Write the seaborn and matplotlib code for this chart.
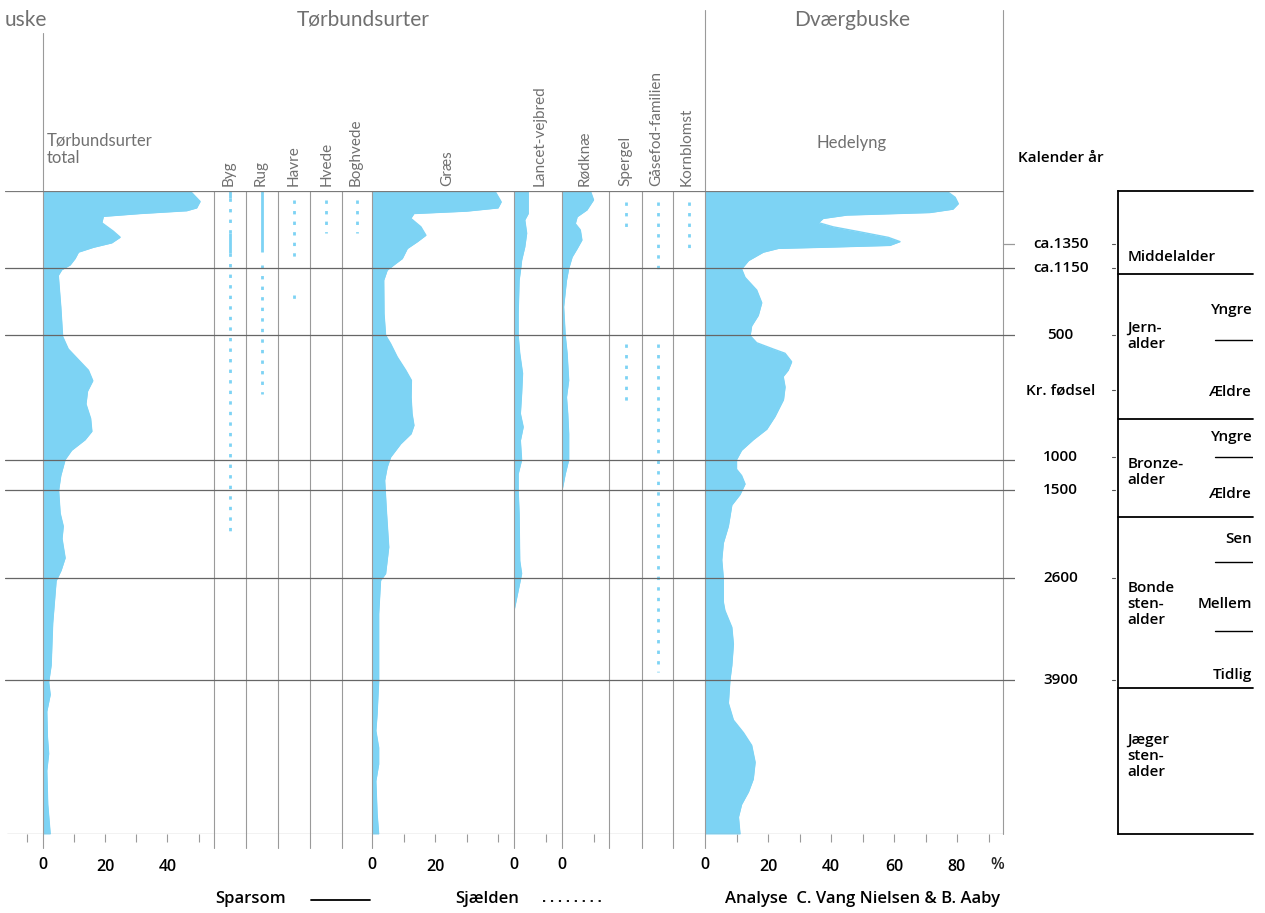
import matplotlib
matplotlib.use("Agg")
import matplotlib.pyplot as plt
from matplotlib.lines import Line2D
import seaborn as sns

# ---------------------------------------------------------------------------
# Pollen data: depth (0 = top of section, 160 = base) and percentage values
# ---------------------------------------------------------------------------
tor_depth = [0, 2.6, 4.2, 4.9, 5.6, 6.3, 7.9, 10.0, 11.5, 12.9, 14.0, 15.2, 16.8,
             18.4, 19.6, 21.0, 28.8, 36.2, 39.3, 42.0, 44.6, 47.2, 49.8, 53.0,
             56.6, 59.8, 61.9, 64.5, 66.8, 70.8, 74.5, 80.2, 83.4, 86.5, 91.3,
             94.4, 97.0, 107.5, 118.0, 122.2, 125.3, 129.5, 135.8, 140.0, 144.2,
             152.6, 160]
tor_pct = [47.3, 50.5, 49.4, 46.2, 31.2, 19.4, 18.9, 22.6, 24.8, 22.1, 16.2, 11.4,
           10.3, 8.7, 6.0, 4.9, 5.7, 6.3, 8.1, 11.4, 14.6, 16.0, 14.3, 13.8, 15.3,
           15.7, 13.5, 9.2, 7.1, 5.7, 5.0, 5.5, 6.5, 6.1, 7.1, 5.8, 4.2, 3.1, 2.6,
           1.8, 2.3, 1.2, 1.4, 1.8, 1.2, 1.5, 2.3]

graes_depth = [0, 2.7, 4.2, 5.0, 5.6, 6.8, 8.9, 11.0, 12.6, 14.3, 16.8, 18.4, 19.7,
               22.2, 30.5, 35.9, 38.0, 41.3, 44.6, 47.1, 51.3, 55.4, 58.3, 60.4,
               62.9, 66.2, 68.7, 72.0, 80.2, 88.6, 95.2, 96.9, 105.2, 121.9, 130.1,
               134.3, 138.5, 142.6, 146.8, 155.0, 160]
graes_pct = [39, 41, 40, 30, 13.3, 12.3, 15.5, 17.1, 14.4, 11.2, 9.6, 6.9, 4.8, 3.7,
             3.8, 4.3, 5.9, 8.0, 10.7, 12.5, 12.4, 12.7, 13.3, 12.4, 9.1, 5.9, 4.8,
             4.0, 4.6, 5.3, 4.3, 2.7, 2.1, 2.1, 1.6, 1.2, 2.1, 2.1, 1.2, 1.6, 2.1]

lancet_depth = [0, 5.6, 7.2, 10.5, 13.9, 17.2, 19.3, 22.2, 30.5, 35.9, 40.4, 45.4,
                50.4, 55.4, 58.7, 62.1, 66.9, 70.4, 74.5, 80.3, 92.0, 95.2, 99.4, 104.4]
lancet_pct = [4.5, 4.5, 3.4, 4.0, 3.4, 2.4, 2.1, 1.6, 1.3, 1.3, 1.8, 2.7, 2.4, 2.0,
              2.9, 2.0, 2.4, 1.3, 1.3, 1.6, 1.8, 2.4, 1.3, 0]

roedknae_depth = [0, 2.2, 4.7, 6.4, 8.1, 9.7, 12.2, 14.3, 16.4, 19.3, 22.2, 28.8,
                  35.9, 40.4, 47.1, 51.3, 55.4, 60.4, 66.9, 70.4, 74.5]
roedknae_pct = [9.0, 10.0, 7.9, 4.8, 4.2, 5.8, 6.3, 4.8, 3.2, 2.1, 1.4, 0.5, 1.0,
                1.6, 2.1, 1.4, 1.8, 2.1, 2.1, 1.0, 0]

hede_depth = [0, 1.57, 3.15, 4.51, 5.35, 5.98, 6.82, 7.87, 8.92, 10.17, 11.54,
              12.59, 13.53, 13.95, 14.27, 15.21, 17.31, 19.4, 21.5, 24.65, 27.8,
              30.94, 33.56, 35.98, 37.76, 39.33, 40.38, 42.48, 44.58, 46.15, 48.77,
              51.92, 56.12, 59.26, 61.89, 64.51, 66.82, 69.23, 70.8, 72.9, 75.52,
              78.14, 83.39, 87.58, 91.78, 96.29, 102.27, 104.37, 108.56, 112.76,
              118.0, 121.67, 127.44, 131.64, 134.78, 137.93, 142.13, 146.33,
              149.48, 152.63, 155.77, 160]
hede_pct = [76.7, 79.4, 80.4, 78.7, 71.4, 45.0, 37.5, 36.0, 40.7, 49.2, 58.2, 61.9,
            58.7, 39.7, 23.3, 18.5, 13.8, 11.6, 12.7, 16.4, 18.0, 16.9, 14.8, 14.3,
            16.4, 21.7, 25.4, 27.5, 26.4, 24.8, 25.4, 24.9, 22.2, 19.6, 15.3, 11.6,
            10.0, 10.0, 11.6, 12.7, 11.1, 8.5, 7.4, 5.8, 5.3, 5.8, 5.8, 6.3, 8.5,
            9.0, 8.5, 7.9, 7.4, 9.0, 12.2, 14.8, 15.9, 15.3, 13.8, 11.6, 10.6, 11.1]

# Presence records (depth intervals): sparsom = solid, sjælden = dotted
byg_sparsom = [(0, 1.8), (10.4, 15.5)]
byg_sjaelden = [(1.8, 10.4), (15.5, 85.2)]
rug_sparsom = [(0, 15.2)]
rug_sjaelden = [(18.5, 50.4)]
havre_sjaelden = [(2.2, 17.6), (26.0, 26.9)]
hvede_sjaelden = [(2.2, 10.5)]
boghvede_sjaelden = [(2.2, 10.5)]
spergel_sjaelden = [(2.7, 10.5), (38.0, 53.0)]
gaasefod_sjaelden = [(2.7, 19.3), (38.0, 119.6)]
kornblomst_sjaelden = [(2.7, 15.2)]

# Zone boundaries (depth) and calendar ages
zone_depths = [19.2, 35.9, 67.0, 74.3, 96.2, 121.6]
age_labels = ["ca.1350", "ca.1150", "500", "Kr. fødsel", "1000", "1500", "2600", "3900"]
age_depths = [13.3, 19.2, 35.9, 49.6, 66.3, 74.3, 96.2, 121.6]

# Cultural periods
period_bounds = [0, 20.7, 56.8, 81.2, 123.6, 160]
period_names = ["Middelalder", "Jern-\nalder", "Bronze-\nalder", "Bonde\nsten-\nalder",
                "Jæger\nsten-\nalder"]
period_label_depths = [16.4, 36.1, 70.0, 102.7, 140.6]
subperiod_bounds = [37.1, 66.3, 92.2, 109.4]
subperiod_names = ["Yngre", "Ældre", "Yngre", "Ældre", "Sen", "Mellem", "Tidlig"]
subperiod_depths = [29.7, 50.1, 61.3, 75.3, 86.5, 102.7, 120.4]

# ---------------------------------------------------------------------------
W, H = 1265, 913
TOP, BOT = 191, 834
DMAX = 160
BLUE = "#7dd3f4"
V_COL = "#9a9a9a"
H_COL = "#666666"
GREY_TXT = "#707070"
LIGHT_FONT = ["Lato", "DejaVu Sans"]
DARK_FONT = ["Open Sans", "DejaVu Sans"]

sns.set_theme(style="white")
plt.rcParams["font.family"] = LIGHT_FONT

fig = plt.figure(figsize=(W / 100, H / 100), dpi=100)
fig.patch.set_facecolor("white")

SEP_LOW = -(848 - BOT) / (BOT - TOP)


def fx(x):
    return x / W


def fy(y):
    return 1 - y / H


def column(left, right, x0=0.0, ppp=3.14, z=2):
    ax = fig.add_axes([fx(left), fy(BOT), (right - left) / W, (BOT - TOP) / H], zorder=z)
    ax.set_facecolor("none")
    for sp in ax.spines.values():
        sp.set_visible(False)
    ax.set_xlim(x0, x0 + (right - left) / ppp)
    ax.set_ylim(DMAX, 0)
    ax.set_yticks([])
    ax.set_xticks([])
    ax.tick_params(axis="x", bottom=True, direction="out", length=6, width=0.8,
                   color=V_COL, pad=12, labelsize=11.5)
    return ax


def curve(ax, depth, pct):
    ax.fill_betweenx(depth, 0, pct, color=BLUE, lw=0, zorder=1)
    sns.lineplot(x=pct, y=depth, orient="y", sort=False, estimator=None,
                 color=BLUE, lw=1.0, ax=ax, zorder=1)
    ax.set_xlabel("")
    ax.set_ylabel("")


def ticks(ax, values, labelled):
    ax.set_xticks(values)
    ax.set_xticklabels([str(v) if v in labelled else "" for v in values],
                       family=DARK_FONT, weight="semibold", color="black")


def presence(ax, solid=(), dotted=()):
    xc = sum(ax.get_xlim()) / 2
    for d0, d1 in solid:
        ax.plot([xc, xc], [d0, d1], color=BLUE, lw=2.0, solid_capstyle="butt", zorder=2)
    for d0, d1 in dotted:
        ax.plot([xc, xc], [d0, d1], color=BLUE, lw=2.0, ls=(0, (1.2, 2.6)),
                dash_capstyle="butt", zorder=2)


def sep(ax, x, top=1.0, low=SEP_LOW):
    ax.axvline(x, ymin=low, ymax=top, color=V_COL, lw=0.8, clip_on=False, zorder=4)


# Tørbundsurter total (with a short stub of the preceding column)
ax_tor = column(7, 214, x0=-(43 - 7) / 3.11, ppp=3.11)
curve(ax_tor, tor_depth, tor_pct)
ax_tor.set_xlim(-(43 - 7) / 3.11, (214 - 7) / 3.11 - (43 - 7) / 3.11)
ticks(ax_tor, [-5, 10, 20, 30, 40, 50], [20, 40])
sep(ax_tor, 0, top=(BOT - 33) / (BOT - TOP))
ax_tor.text(0, -2, "", transform=ax_tor.transData)

# Cereal columns
cereal_edges = [214, 246, 278, 310, 342, 372]
cereal_solid = [byg_sparsom, rug_sparsom, [], [], []]
cereal_dotted = [byg_sjaelden, rug_sjaelden, havre_sjaelden, hvede_sjaelden, boghvede_sjaelden]
for i in range(5):
    ax = column(cereal_edges[i], cereal_edges[i + 1])
    ax.set_xlim(0, (cereal_edges[i + 1] - cereal_edges[i]) / 3.14)
    presence(ax, cereal_solid[i], cereal_dotted[i])
    sep(ax, 0)

# Græs
ax_gr = column(372, 514, ppp=3.15)
curve(ax_gr, graes_depth, graes_pct)
ax_gr.set_xlim(0, 142 / 3.15)
ax_gr.set_ylim(DMAX, 0)
ticks(ax_gr, [10, 20, 30, 40], [20])
sep(ax_gr, 0)

# Lancet-vejbred
ax_lv = column(514, 562, ppp=3.15)
curve(ax_lv, lancet_depth, lancet_pct)
ax_lv.set_xlim(0, 48 / 3.15)
ax_lv.set_ylim(DMAX, 0)
ticks(ax_lv, [10], [])
sep(ax_lv, 0)

# Rødknæ
ax_rk = column(562, 609, ppp=3.15)
curve(ax_rk, roedknae_depth, roedknae_pct)
ax_rk.set_xlim(0, 47 / 3.15)
ax_rk.set_ylim(DMAX, 0)
ticks(ax_rk, [10], [])
sep(ax_rk, 0)

# Weeds
weed_edges = [609, 642, 673, 705]
weed_dotted = [spergel_sjaelden, gaasefod_sjaelden, kornblomst_sjaelden]
for i in range(3):
    ax = column(weed_edges[i], weed_edges[i + 1])
    ax.set_xlim(0, (weed_edges[i + 1] - weed_edges[i]) / 3.14)
    presence(ax, (), weed_dotted[i])
    sep(ax, 0)

# Hedelyng
ax_he = column(705, 1003, ppp=3.15)
curve(ax_he, hede_depth, hede_pct)
ax_he.set_xlim(0, 298 / 3.15)
ax_he.set_ylim(DMAX, 0)
ticks(ax_he, [10, 20, 30, 40, 50, 60, 70, 80, 90], [20, 40, 60, 80])
hdr = (BOT - 10) / (BOT - TOP)
sep(ax_he, 0, top=hdr)
sep(ax_he, ax_he.get_xlim()[1], top=hdr, low=0)

# Zero labels for columns whose zero sits on a separator
for ax in (ax_tor, ax_gr, ax_lv, ax_rk, ax_he):
    ax.annotate("0", xy=(0, DMAX), xytext=(0, -22.5), textcoords="offset points",
                ha="center", va="center", fontsize=11.5, family=DARK_FONT,
                weight="semibold", color="black", annotation_clip=False)
fig.text(fx(997), fy(865), "%", ha="center", va="center", fontsize=11.5,
         family=DARK_FONT, weight="semibold")

# Horizontal zone lines drawn over all columns
ax_fr = fig.add_axes([fx(5), fy(BOT), (1015 - 5) / W, (BOT - TOP) / H], zorder=5)
ax_fr.set_facecolor("none")
ax_fr.axis("off")
ax_fr.set_ylim(DMAX, 0)
ax_fr.set_xlim(0, 1)
right_edge = (1003 - 5) / 1010
for d in zone_depths:
    ax_fr.axhline(d, 0, 1, color=H_COL, lw=0.9)
ax_fr.axhline(0, 0, right_edge, color="#7a7a7a", lw=0.9)
ax_fr.axhline(DMAX, 2 / 1010, right_edge, color=V_COL, lw=0.9)
ax_fr.axhline(age_depths[0], right_edge, 1, color=V_COL, lw=0.9)

# Chronology column
ax_ch = fig.add_axes([fx(1118), fy(BOT), (1253 - 1118) / W, (BOT - TOP) / H])
ax_ch.set_facecolor("none")
for k, sp in ax_ch.spines.items():
    sp.set_visible(k == "left")
ax_ch.spines["left"].set_color("black")
ax_ch.spines["left"].set_linewidth(1.3)
ax_ch.set_ylim(DMAX, 0)
ax_ch.set_xlim(0, 1)
ax_ch.set_xticks([])
ax_ch.set_yticks([])
for d in period_bounds:
    ax_ch.axhline(d, 0, 1, color="black", lw=1.3, clip_on=False)
for d in subperiod_bounds:
    ax_ch.axhline(d, 0.72, 1, color="black", lw=1.0)
tr = ax_ch.get_yaxis_transform()
txt_kw = dict(family=DARK_FONT, weight="semibold", color="black", fontsize=11)
for name, d in zip(period_names, period_label_depths):
    ax_ch.text(0.07, d, name, transform=tr, ha="left", va="center", linespacing=1.2, **txt_kw)
for name, d in zip(subperiod_names, subperiod_depths):
    ax_ch.text(0.995, d, name, transform=tr, ha="right", va="center", **txt_kw)
for name, d in zip(age_labels, age_depths):
    ax_ch.text(-0.425, d, name, transform=tr, ha="center", va="center", **txt_kw)
    ax_ch.plot([-0.045, -0.02], [d, d], transform=tr, color="#555555", lw=0.8, clip_on=False)
ax_ch.text(-0.425, -8.2, "Kalender år", transform=tr, ha="center", va="center", **txt_kw)

# Headers and taxon names
fig.text(fx(5), fy(20), "uske", ha="left", va="center", fontsize=15, color=GREY_TXT)
fig.text(fx(363), fy(20), "Tørbundsurter", ha="center", va="center", fontsize=15, color=GREY_TXT)
fig.text(fx(852), fy(20), "Dværgbuske", ha="center", va="center", fontsize=15, color=GREY_TXT)
fig.text(fx(47), fy(149), "Tørbundsurter\ntotal", ha="left", va="center", fontsize=12,
         color=GREY_TXT, linespacing=1.1)
fig.text(fx(852), fy(143), "Hedelyng", ha="center", va="center", fontsize=12, color=GREY_TXT)

rot_names = ["Byg", "Rug", "Havre", "Hvede", "Boghvede", "Græs", "Lancet-vejbred",
             "Rødknæ", "Spergel", "Gåsefod-familien", "Kornblomst"]
rot_x = [229, 261, 294, 327, 356, 447, 540, 584, 625, 656, 687]
for name, x in zip(rot_names, rot_x):
    fig.text(fx(x), fy(186), name, rotation=90, ha="center", va="bottom",
             fontsize=11, color=GREY_TXT)

# Legend and credit line
leg_kw = dict(family=DARK_FONT, weight="semibold", color="black", fontsize=12, va="center")
fig.text(fx(215), fy(899), "Sparsom", ha="left", **leg_kw)
fig.add_artist(Line2D([fx(311), fx(370)], [fy(900), fy(900)], color="black", lw=1.3))
fig.text(fx(455), fy(899), "Sjælden", ha="left", **leg_kw)
fig.add_artist(Line2D([fx(543), fx(605)], [fy(901), fy(901)], color="black", lw=1.3,
                      ls=(0, (1.2, 3.2))))
fig.text(fx(725), fy(899), "Analyse  C. Vang Nielsen & B. Aaby", ha="left", **leg_kw)

fig.savefig("out.png", dpi=100, facecolor="white")
